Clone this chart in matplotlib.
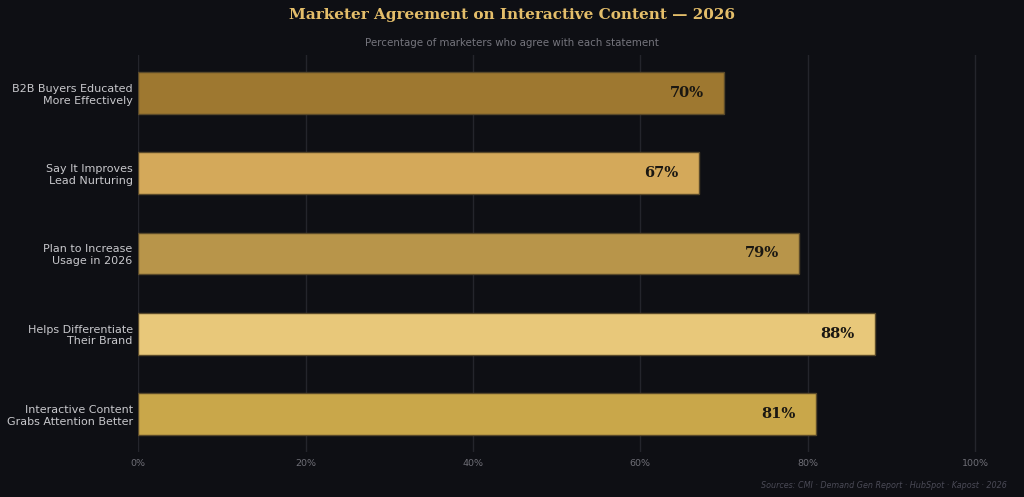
import matplotlib.pyplot as plt

# Data
statements = [
    "B2B Buyers Educated\nMore Effectively",
    "Say It Improves\nLead Nurturing",
    "Plan to Increase\nUsage in 2026",
    "Helps Differentiate\nTheir Brand",
    "Interactive Content\nGrabs Attention Better",
]
agree_pct = [70, 67, 79, 88, 81]
bar_colors = ["#9e7830", "#d4a95a", "#b8954a", "#e8c87a", "#c9a74a"]
x_ticks = [0, 20, 40, 60, 80, 100]

bg = "#0e0f14"

fig = plt.figure(figsize=(10.24, 4.97), dpi=100, facecolor=bg)
ax = fig.add_axes([0.135, 0.091, 0.858, 0.798])
ax.set_facecolor(bg)

ypos = list(range(len(statements)))
ax.barh(ypos, agree_pct, height=0.52, color=bar_colors,
        edgecolor="#5a4a2a", linewidth=1, zorder=3)

for y, v in zip(ypos, agree_pct):
    ax.text(v - 2.4, y, f"{v}%", ha="right", va="center",
            fontsize=10.5, fontweight="bold", family="DejaVu Serif",
            color="#1a1712", zorder=4)

ax.set_ylim(len(statements) - 0.5 - 0.03, -0.5 + 0.03)
ax.set_xlim(0, 105)
ax.set_yticks(ypos)
ax.set_yticklabels(statements, fontsize=8, color="#c8c8cc")
ax.set_xticks(x_ticks)
ax.set_xticklabels([f"{t}%" for t in x_ticks], fontsize=6.8, color="#6e6e76")
ax.tick_params(axis="both", length=0, pad=4)
ax.tick_params(axis="x", pad=5)

ax.grid(axis="x", color="#24252c", linewidth=1, zorder=0)
for s in ax.spines.values():
    s.set_visible(False)

fig.text(0.5, 0.97, "Marketer Agreement on Interactive Content \u2014 2026",
         ha="center", va="center", fontsize=11, fontweight="bold",
         family="DejaVu Serif", color="#e4be6a")
fig.text(0.5, 0.914, "Percentage of marketers who agree with each statement",
         ha="center", va="center", fontsize=7.4, color="#75757d")
fig.text(0.983, 0.024, "Sources: CMI \u00b7 Demand Gen Report \u00b7 HubSpot \u00b7 Kapost \u00b7 2026",
         ha="right", va="center", fontsize=5.8, style="italic", color="#4a4a56")

fig.savefig("out.png", dpi=100, facecolor=bg)
